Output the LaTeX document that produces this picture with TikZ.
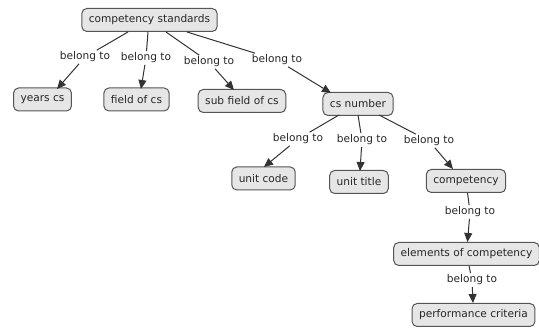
\documentclass[tikz,border=0pt]{standalone}
\usepackage{fontspec}
\setmainfont{DejaVu Sans}
\usetikzlibrary{arrows.meta}
\definecolor{boxfill}{HTML}{E6E6E6}
\definecolor{boxline}{HTML}{555555}
\definecolor{edgecol}{HTML}{333333}
\tikzset{
  concept/.style={draw=boxline, fill=boxfill, rounded corners=5pt, line width=1pt,
    inner xsep=7pt, minimum height=23pt, font=\fontsize{10.6}{12}\selectfont, text=black!85},
  linklabel/.style={inner sep=1.5pt, font=\fontsize{10.6}{12}\selectfont, text=black!85},
  conn/.style={draw=edgecol, line width=1pt},
  arr/.style={conn, -{Triangle[length=9pt,width=8pt]}}
}
\begin{document}
\begin{tikzpicture}[x=1pt,y=-1pt]
\useasboundingbox (0,0) rectangle (539,328);
\node[concept] (cs) at (149.5,20) {competency standards};
\node[concept] (years) at (42.5,99.5) {years cs};
\node[concept] (field) at (136.5,99.5) {field of cs};
\node[concept] (sub) at (242,101) {sub field of cs};
\node[concept] (num) at (358,104) {cs number};
\node[concept] (code) at (263.5,178.5) {unit code};
\node[concept] (title) at (359,182) {unit title};
\node[concept] (comp) at (466,181) {competency};
\node[concept] (elem) at (466.5,254) {elements of competency};
\node[concept] (perf) at (473.5,315) {performance criteria};

\node[linklabel] (l1) at (85,57) {belong to};
\node[linklabel] (l2) at (146,58) {belong to};
\node[linklabel] (l3) at (209,62) {belong to};
\node[linklabel] (l4) at (277,60) {belong to};
\node[linklabel] (l5) at (298,139) {belong to};
\node[linklabel] (l6) at (362,140) {belong to};
\node[linklabel] (l7) at (429,141) {belong to};
\node[linklabel] (l8) at (470,212) {belong to};
\node[linklabel] (l9) at (472,280) {belong to};

\draw[conn] (128,32) -- (l1);
\draw[arr] (l1) -- (57,89);
\draw[conn] (148,32) -- (l2);
\draw[arr] (l2) -- (141,89);
\draw[conn] (166,32) -- (l3);
\draw[arr] (l3) -- (234,90);
\draw[conn] (187,32) -- (l4);
\draw[arr] (l4) -- (331,93);
\draw[conn] (339,115) -- (l5);
\draw[arr] (l5) -- (264,167);
\draw[conn] (358,115) -- (l6);
\draw[arr] (l6) -- (360,171);
\draw[conn] (379,115) -- (l7);
\draw[arr] (l7) -- (453,169);
\draw[conn] (comp) -- (l8);
\draw[arr] (l8) -- (elem);
\draw[conn] (elem) -- (l9);
\draw[arr] (l9) -- (perf);
\end{tikzpicture}
\end{document}
